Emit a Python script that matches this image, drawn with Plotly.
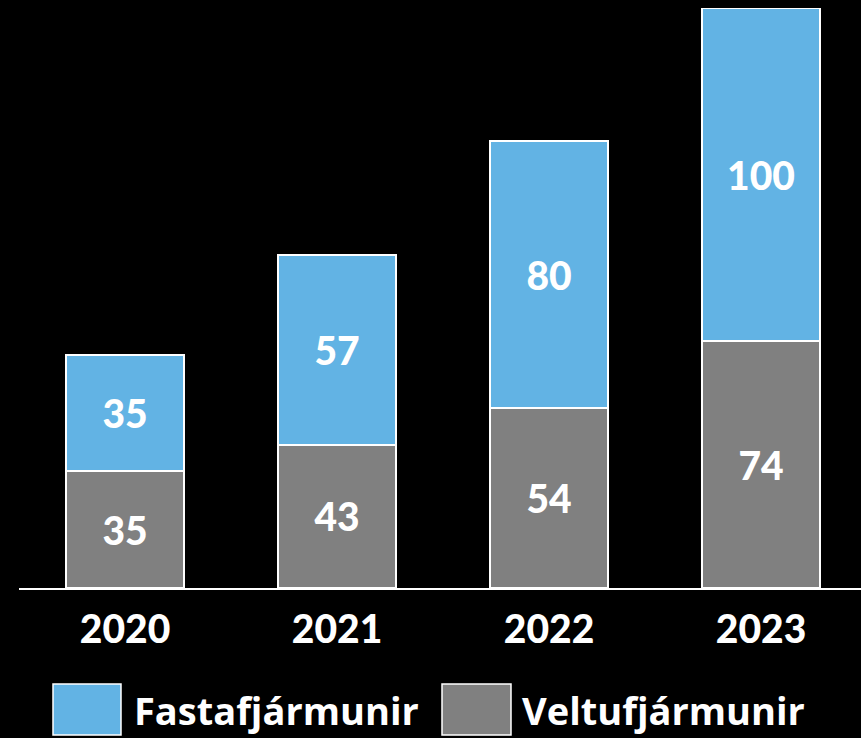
import plotly.graph_objects as go

years = ["2020", "2021", "2022", "2023"]
veltu = [35, 43, 54, 74]
fasta = [35, 57, 80, 100]
series_names = ["Fastafjármunir", "Veltufjármunir"]
colors = {"Fastafjármunir": "#62B3E4", "Veltufjármunir": "#808080"}

W, H = 861, 738
ML, MR, MT, MB = 19, 0, 8, 150
PW, PH = W - ML - MR, H - MT - MB

FONT = dict(family="Lato, 'Open Sans', sans-serif", size=39, color="white", weight=900)
LEGEND_FONT = dict(family="'Open Sans', Lato, sans-serif", size=38, color="white", weight="bold")

fig = go.Figure()
fig.add_trace(go.Bar(
    x=years, y=veltu, name=series_names[1],
    marker=dict(color=colors[series_names[1]], line=dict(color="white", width=2)),
    text=veltu, textposition="inside", insidetextanchor="middle",
    textfont=FONT, constraintext="none", width=0.557,
))
fig.add_trace(go.Bar(
    x=years, y=fasta, name=series_names[0],
    marker=dict(color=colors[series_names[0]], line=dict(color="white", width=2)),
    text=fasta, textposition="inside", insidetextanchor="middle",
    textfont=FONT, constraintext="none", width=0.557,
))

def px_x(p):
    return (p - ML) / PW

def px_y(p):
    return (H - MB - p) / PH

shapes = []
annotations = []
legend_items = [
    (series_names[0], 53, 121, 132),
    (series_names[1], 442, 511, 520),
]
for name, x0, x1, tx in legend_items:
    shapes.append(dict(type="rect", xref="paper", yref="paper",
                       x0=px_x(x0), x1=px_x(x1), y0=px_y(735), y1=px_y(684),
                       fillcolor=colors[name], line=dict(color="white", width=1.5)))
    annotations.append(dict(text=name, xref="paper", yref="paper",
                            x=px_x(tx), y=px_y(710), xanchor="left", yanchor="middle",
                            showarrow=False, font=LEGEND_FONT))

fig.update_layout(
    width=W, height=H,
    margin=dict(l=ML, r=MR, t=MT, b=MB),
    paper_bgcolor="black", plot_bgcolor="black",
    barmode="stack", showlegend=False,
    shapes=shapes, annotations=annotations,
    font=FONT,
)
fig.update_xaxes(
    range=[-0.5, -0.5 + PW / 212.0],
    showline=True, linecolor="white", linewidth=1.5,
    showgrid=False, zeroline=False,
    ticks="outside", ticklen=6, tickcolor="rgba(0,0,0,0)",
    tickfont=FONT,
)
fig.update_yaxes(range=[0, 174], visible=False, showgrid=False, zeroline=False)

fig.write_html(
    "out.html",
    config={"displayModeBar": False},
    post_script="document.body.style.margin='0';document.body.style.overflow='hidden';document.body.style.background='black';",
)
